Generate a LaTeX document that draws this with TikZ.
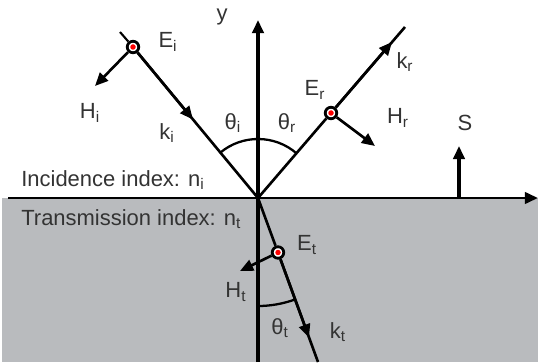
\documentclass[tikz,border=0pt]{standalone}
\usepackage{fontspec}
\setmainfont{Liberation Sans}
\usetikzlibrary{arrows.meta}
\definecolor{mediumgray}{RGB}{185,187,190}
\definecolor{darktext}{RGB}{51,51,51}

\begin{document}
\begin{tikzpicture}[x=1cm,y=1cm,font=\fontsize{12.5}{15}\selectfont,
    >={Triangle[length=7.5pt,width=6.5pt]},
    ray/.style={line width=1.5pt},
    axis/.style={line width=2.2pt,->},
    lbl/.style={text=darktext,inner sep=0pt},
    emark/.style={circle,draw=black,fill=white,line width=1.6pt,
        minimum size=0.23cm,inner sep=0pt,
        path picture={\fill[red] (path picture bounding box.center) circle (0.055);}}]
    \useasboundingbox (0,0) rectangle (10.76,7.24);
    \clip (0,0) rectangle (10.76,7.24);

    % lower medium and axes
    \fill[mediumgray] (0.04,0) rectangle (10.76,3.28);
    \coordinate (O) at (5.16,3.28);
    \coordinate (xl) at (0.16,3.28);
    \coordinate (xr) at (10.76,3.28);
    \coordinate (yb) at (5.16,0);
    \coordinate (yt) at (5.16,6.84);
    \draw[line width=1.7pt,->] (xl) -- (xr);
    \draw[axis] (yb) -- (yt);
    \node[lbl] (ylab) at (4.44,6.90) {y};
    \node[lbl] (xlab) at (10.90,3.80) {x};

    \node[lbl,anchor=west] (ni) at (0.42,3.64) {Incidence index: n\textsubscript{i}};
    \node[lbl,anchor=west] (nt) at (0.42,2.86) {Transmission index: n\textsubscript{t}};

    % incident wave
    \coordinate (itail) at (2.40,6.60);
    \coordinate (ki) at (3.86,4.85);
    \coordinate (hi) at (1.90,5.52);
    \node[emark] (Ei) at (2.66,6.30) {};
    \draw[line width=1.2pt] (itail) -- (Ei);
    \draw[ray] (Ei) -- (O);
    \draw[ray,->] (Ei) -- (ki);
    \draw[ray,->] (Ei) -- (hi);
    \node[lbl] (Eilab) at (3.36,6.40) {E\textsubscript{i}};
    \node[lbl] (Hilab) at (1.80,4.98) {H\textsubscript{i}};
    \node[lbl] (kilab) at (3.34,4.58) {k\textsubscript{i}};

    % reflected wave
    \coordinate (rtip) at (8.10,6.70);
    \coordinate (kr) at (7.84,6.40);
    \coordinate (hr) at (7.50,4.32);
    \node[emark] (Er) at (6.62,4.98) {};
    \draw[ray] (O) -- (Er);
    \draw[ray] (Er) -- (rtip);
    \draw[ray,->] (Er) -- (kr);
    \draw[ray,->] (Er) -- (hr);
    \node[lbl] (Erlab) at (6.30,5.44) {E\textsubscript{r}};
    \node[lbl] (krlab) at (8.10,6.00) {k\textsubscript{r}};
    \node[lbl] (Hrlab) at (7.96,4.88) {H\textsubscript{r}};

    % transmitted wave
    \coordinate (tend) at (6.36,0);
    \coordinate (kt) at (6.18,0.49);
    \coordinate (ht) at (4.80,1.82);
    \node[emark] (Et) at (5.56,2.19) {};
    \draw[ray] (O) -- (Et);
    \draw[ray] (Et) -- (tend);
    \draw[ray,->] (Et) -- (kt);
    \draw[ray,->] (Et) -- (ht);
    \node[lbl] (Etlab) at (6.14,2.34) {E\textsubscript{t}};
    \node[lbl] (Htlab) at (4.72,1.40) {H\textsubscript{t}};
    \node[lbl] (ktlab) at (6.76,0.60) {k\textsubscript{t}};

    % angles
    \draw[line width=1.3pt] (O) ++(129.6:1.18) arc[start angle=129.6,end angle=49.3,radius=1.18];
    \draw[line width=1.3pt] (O) ++(-90:2.16) arc[start angle=-90,end angle=-69.9,radius=2.16];
    \node[lbl] (thi) at (4.66,4.78) {θ\textsubscript{i}};
    \node[lbl] (thr) at (5.74,4.78) {θ\textsubscript{r}};
    \node[lbl] (tht) at (5.60,0.68) {θ\textsubscript{t}};

    % Poynting vector
    \coordinate (sb) at (9.18,3.28);
    \coordinate (st) at (9.18,4.32);
    \draw[line width=1.8pt,->] (sb) -- (st);
    \node[lbl] (Slab) at (9.30,4.78) {S};
\end{tikzpicture}
\end{document}
